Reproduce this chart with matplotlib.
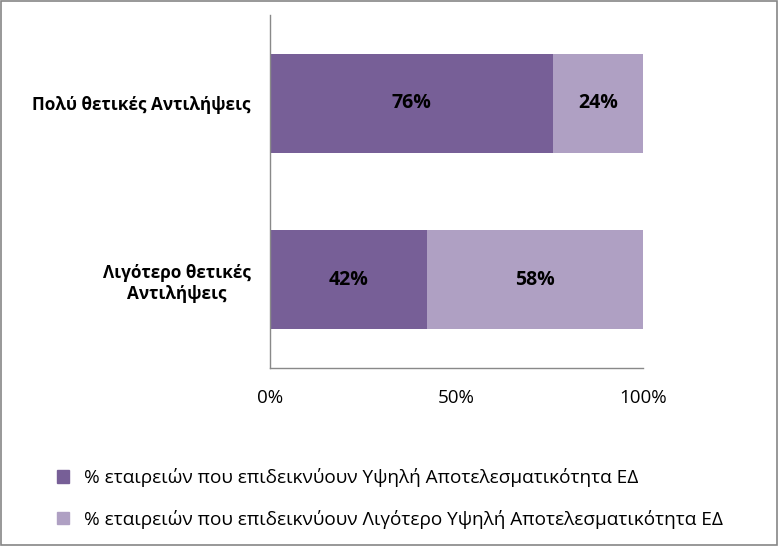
import matplotlib
matplotlib.use("Agg")
import matplotlib.pyplot as plt
from matplotlib.patches import Rectangle

plt.rcParams['font.family'] = ['Open Sans', 'DejaVu Sans']

categories = ['Λιγότερο θετικές\nΑντιλήψεις', 'Πολύ θετικές Αντιλήψεις']
high_eff = [42, 76]
less_eff = [58, 24]
series_names = ['% εταιρειών που επιδεικνύουν Υψηλή Αποτελεσματικότητα ΕΔ',
                '% εταιρειών που επιδεικνύουν Λιγότερο Υψηλή Αποτελεσματικότητα ΕΔ']
xticks = [0, 50, 100]
xtick_labels = ['0%', '50%', '100%']

c_dark = '#775F97'
c_light = '#AFA0C3'

fig = plt.figure(figsize=(7.79, 5.46), dpi=100)
ax = fig.add_axes([270 / 779, 1 - 368 / 546, (643 - 270) / 779, (368 - 15) / 546])

y = list(range(len(categories)))
b1 = ax.barh(y, high_eff, height=0.5625, color=c_dark, label=series_names[0])
b2 = ax.barh(y, less_eff, left=high_eff, height=0.5625, color=c_light, label=series_names[1])

for vals, lefts in [(high_eff, [0, 0]), (less_eff, high_eff)]:
    for yi, v, l in zip(y, vals, lefts):
        ax.text(l + v / 2, yi, f'{v}%', ha='center', va='center',
                fontsize=14, fontweight='bold', color='black')

ax.set_xlim(0, 100)
ax.set_ylim(-0.5, 1.5)
ax.set_xticks(xticks)
ax.set_xticklabels(xtick_labels, fontsize=13.5)
ax.set_yticks(y)
ax.set_yticklabels(categories, fontsize=12.3, fontweight='bold', ha='right',
                   multialignment='center')
ax.tick_params(axis='y', length=0, pad=14)
ax.tick_params(axis='x', length=0, pad=15)
for s in ['top', 'right']:
    ax.spines[s].set_visible(False)
for s in ['left', 'bottom']:
    ax.spines[s].set_color('#898989')
    ax.spines[s].set_linewidth(1)

handles = [Rectangle((0, 0), 1, 1, color=c_dark), Rectangle((0, 0), 1, 1, color=c_light)]
fig.legend(handles, series_names, loc='upper left', bbox_to_anchor=(57 / 779, 1 - 468 / 546),
           frameon=False, fontsize=13.7, handlelength=0.64, handleheight=0.64,
           handletextpad=0.8, labelspacing=1.2, borderpad=0, borderaxespad=0)

fig.patches.append(Rectangle((0.001, 0.001), 0.997, 0.997, transform=fig.transFigure,
                             fill=False, edgecolor='#868686', linewidth=1.2))

fig.savefig('out.png', dpi=100)
